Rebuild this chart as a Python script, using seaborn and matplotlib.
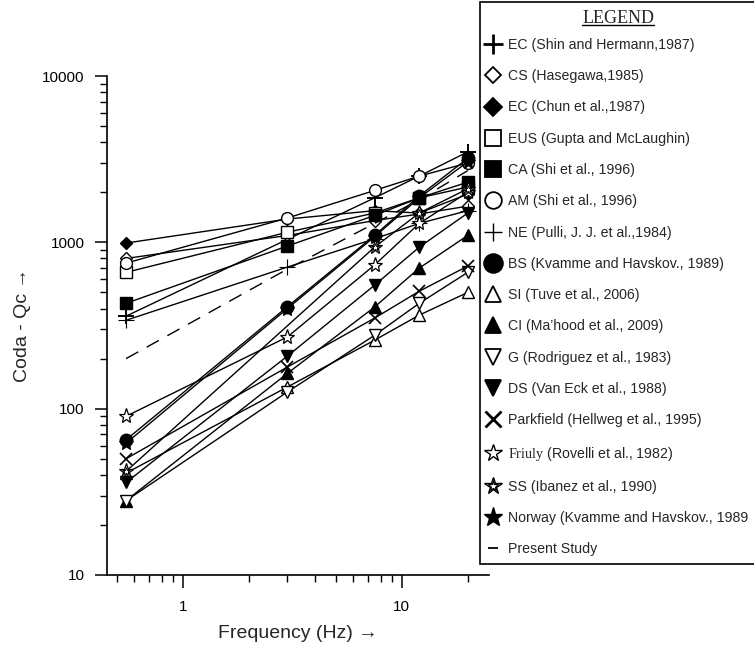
import matplotlib
matplotlib.use("Agg")
import matplotlib.pyplot as plt
import seaborn as sns
from matplotlib.lines import Line2D
from matplotlib.legend_handler import HandlerTuple
from matplotlib.ticker import NullFormatter
from matplotlib.transforms import IdentityTransform

# --- data (log-log, Qc vs frequency) ---
FREQ = [0.55, 3, 7.5, 12, 20]
FREQ_NO3 = [0.55, 7.5, 12, 20]

EC_SHIN = [360, 1850, 2500, 3500]        # uses FREQ_NO3
CS = [800, 1100, 1350, 1480, 1650]
EC_CHUN = [990, 1380, 1550, 1500, 1950]
EUS = [660, 1150, 1500, 1850, 2150]
CA = [430, 950, 1450, 1850, 2300]
AM = [750, 1400, 2050, 2500, 3000]
NE = [340, 710, 1050, 1300, 1550]
BS = [65, 410, 1100, 1900, 3200]
SI = [41, 135, 258, 365, 500]
CI = [28, 163, 408, 700, 1100]
G = [28, 126, 276, 430, 660]
DS = [36, 207, 552, 935, 1500]
PARKFIELD = [50, 178, 350, 508, 720]
FRIULY = [90, 270, 730, 1300, 2000]
SS = [42, 935, 1500, 2100]               # uses FREQ_NO3
NORWAY = [62, 400, 1080, 1850, 3050]
PRESENT = [200, 690, 1300, 1800, 2700]

LABELS = [
    "EC (Shin and Hermann,1987)",
    "CS (Hasegawa,1985)",
    "EC (Chun et al.,1987)",
    "EUS (Gupta and McLaughin)",
    "CA (Shi et al., 1996)",
    "AM (Shi et al., 1996)",
    "NE (Pulli, J. J. et al.,1984)",
    "BS (Kvamme and Havskov., 1989)",
    "SI (Tuve et al., 2006)",
    "CI (Ma\u2019hood et al., 2009)",
    "G (Rodriguez et al., 1983)",
    "DS (Van Eck et al., 1988)",
    "Parkfield (Hellweg et al., 1995)",
    r"$\mathrm{Friuly}$ (Rovelli et al., 1982)",
    "SS (Ibanez et al., 1990)",
    "Norway (Kvamme and Havskov., 1989",
    "Present Study",
]

X_MAJOR = [1, 10]
X_MAJOR_LABELS = ["1", "10"]
X_MINOR = [0.5, 0.6, 0.7, 0.8, 0.9, 2, 3, 4, 5, 6, 7, 8, 9, 20]
Y_MAJOR = [10, 100, 1000, 10000]
Y_MAJOR_LABELS = ["10", "100", "1000", "10000"]
Y_MINOR = [v * d for d in (10, 100, 1000) for v in range(2, 10)]

sns.set_style("ticks")
plt.rcParams["font.family"] = ["Liberation Sans", "DejaVu Sans"]
plt.rcParams["mathtext.fontset"] = "custom"
plt.rcParams["mathtext.rm"] = "Liberation Serif"

fig = plt.figure(figsize=(7.54, 6.47), dpi=100)
ax = fig.add_axes([107 / 754, 1 - 575 / 647, (489 - 107) / 754, (575 - 76) / 647])

W, K = "white", "black"
# (x, y, marker, size, face, edge width)
series = [
    (FREQ_NO3, EC_SHIN, "+", 12, K, 1.4),
    (FREQ, CS, "D", 6, W, 1.0),
    (FREQ, EC_CHUN, "D", 6.5, K, 1.0),
    (FREQ, EUS, "s", 8, W, 1.0),
    (FREQ, CA, "s", 8.5, K, 1.0),
    (FREQ, AM, "o", 8.5, W, 1.0),
    (FREQ, NE, "+", 11, K, 0.8),
    (FREQ, BS, "o", 9, K, 1.0),
    (FREQ, SI, "^", 8, W, 1.0),
    (FREQ, CI, "^", 8, K, 1.0),
    (FREQ, G, "v", 8, W, 1.0),
    (FREQ, DS, "v", 8, K, 1.0),
    (FREQ, PARKFIELD, "x", 9, K, 1.2),
    (FREQ, FRIULY, "*", 11, W, 0.9),
    (FREQ_NO3, SS, "*", 11, W, 0.9),
    (FREQ, NORWAY, "*", 11, K, 0.9),
]

for xs, ys, mk, ms, fc, mew in series:
    sns.lineplot(x=xs, y=ys, ax=ax, color=K, linewidth=1.0, marker=mk,
                 markersize=ms, markerfacecolor=fc, markeredgecolor=K,
                 markeredgewidth=mew, sort=False, legend=False)
# inner star of the SS symbol
sns.lineplot(x=FREQ_NO3, y=SS, ax=ax, color=K, linewidth=0, marker="*",
             markersize=6, markerfacecolor=W, markeredgecolor=K,
             markeredgewidth=0.7, sort=False, legend=False)
sns.lineplot(x=FREQ, y=PRESENT, ax=ax, color=K, linewidth=1.0,
             linestyle=(0, (10, 7)), sort=False, legend=False)

ax.set_xscale("log")
ax.set_yscale("log")
ax.set_xlim(0.45, 25)
ax.set_ylim(10, 10000)
ax.set_xticks(X_MAJOR, X_MAJOR_LABELS)
ax.set_xticks(X_MINOR, minor=True)
ax.set_yticks(Y_MAJOR, Y_MAJOR_LABELS)
ax.set_yticks(Y_MINOR, minor=True)
ax.xaxis.set_minor_formatter(NullFormatter())
ax.yaxis.set_minor_formatter(NullFormatter())
ax.tick_params(which="major", direction="out", length=9, width=1.1,
               labelsize=11, pad=7, colors=K)
ax.tick_params(which="minor", direction="out", length=5, width=1.0, colors=K)
ax.tick_params(axis="x", which="major", pad=9)
for s in ("top", "right"):
    ax.spines[s].set_visible(False)
for s in ("left", "bottom"):
    ax.spines[s].set_linewidth(1.2)
    ax.spines[s].set_color(K)

ax.set_xlabel("Frequency (Hz) \u2192", fontsize=14, labelpad=8)
ax.set_ylabel("Coda - Qc \u2192", fontsize=14, labelpad=8)

# --- legend handles ---
def h(mk, ms, fc, mew, ls="None"):
    return Line2D([], [], color=K, marker=mk, markersize=ms, markerfacecolor=fc,
                  markeredgecolor=K, markeredgewidth=mew, linestyle=ls, linewidth=1.0)

handles = [
    h("+", 15, K, 2.0),
    h("D", 8.5, W, 1.3),
    h("D", 9.5, K, 1.3),
    h("s", 11, W, 1.3, "-"),
    h("s", 12, K, 1.3),
    h("o", 12, W, 1.3, "-"),
    h("+", 13, K, 1.0),
    h("o", 13.5, K, 1.3),
    h("^", 11, W, 1.3),
    h("^", 11.5, K, 1.3),
    h("v", 11, W, 1.3),
    h("v", 11.5, K, 1.3),
    h("x", 11, K, 2.0),
    h("*", 13, W, 1.0),
    (h("*", 13, W, 1.0), h("*", 8, W, 0.9)),
    h("*", 14, K, 1.0),
    h("_", 7, K, 1.3),
]

leg = fig.legend(handles, LABELS, loc="upper left",
                 bbox_to_anchor=(480 / 754, 1 - 2 / 647),
                 bbox_transform=fig.transFigure, borderaxespad=0,
                 fontsize=10.2, labelspacing=1.22, handlelength=0.8,
                 handletextpad=0.63, borderpad=0.55, frameon=True,
                 fancybox=False, edgecolor=K, framealpha=1,
                 title="LEGEND",
                 title_fontproperties={"family": "Liberation Serif", "size": 13},
                 handler_map={tuple: HandlerTuple(ndivide=1, pad=0)})
leg.get_frame().set_linewidth(1.2)
# tighter gap between the title and the first entry
leg._legend_box.sep = 8

fig.canvas.draw()
bb = leg.get_title().get_window_extent()
fig.add_artist(Line2D([bb.x0, bb.x1], [bb.y0 + 2, bb.y0 + 2], color=K,
                      linewidth=1.0, transform=IdentityTransform(), zorder=10))

fig.savefig("out.png", dpi=100)
